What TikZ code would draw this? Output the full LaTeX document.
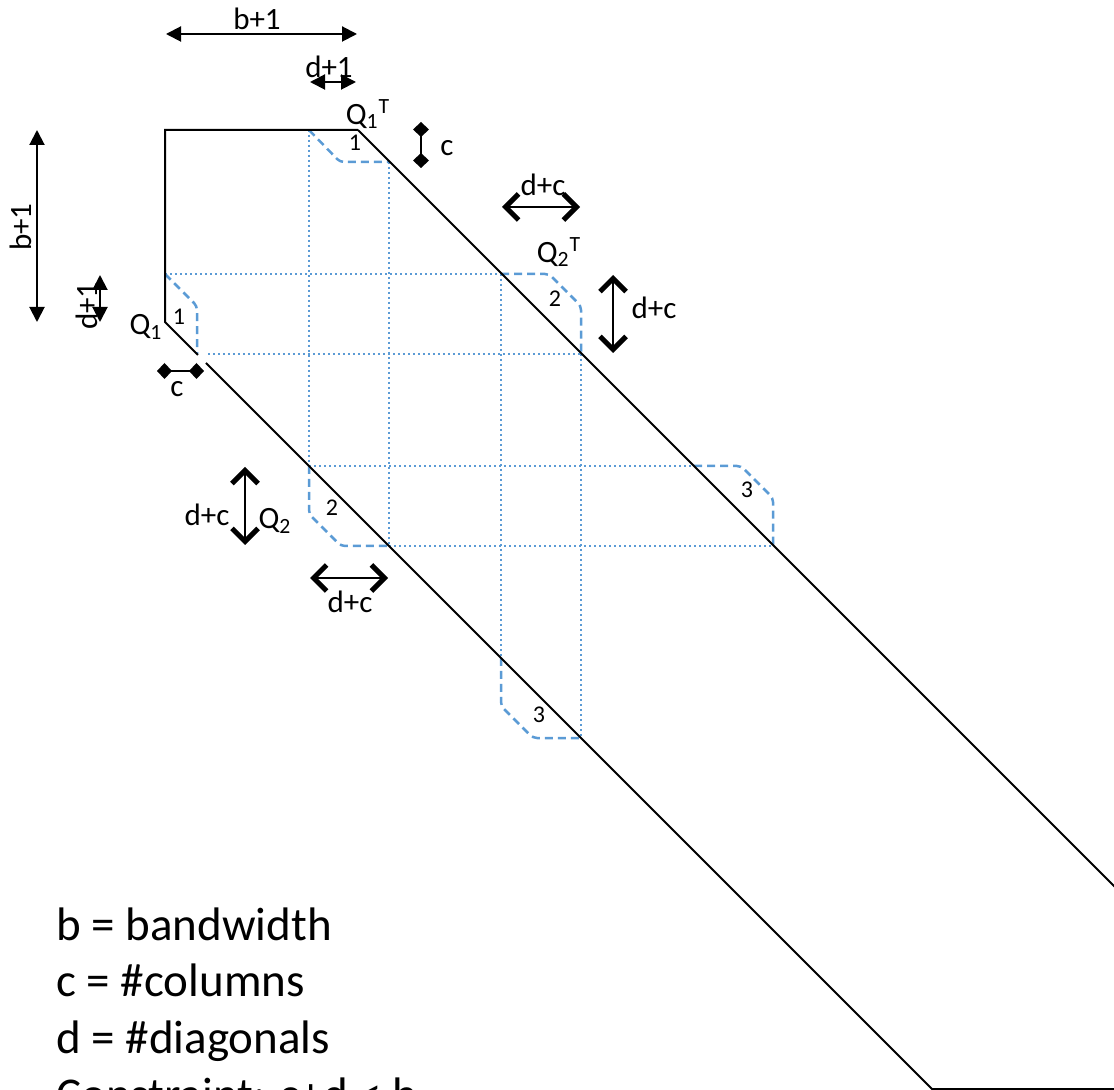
\documentclass[tikz,border=0pt]{standalone}
\usepackage{fontspec}
\setmainfont{Carlito}
\usetikzlibrary{arrows.meta}
\definecolor{blu}{RGB}{91,155,213}
\tikzset{
  band/.style={black, line width=1pt},
  gridl/.style={blu, line width=1.15pt, dash pattern=on 1.1pt off 1.4pt},
  blockl/.style={blu, line width=1.25pt, dash pattern=on 4pt off 2.5pt, rounded corners=2pt},
  lbl/.style={inner sep=0pt, font=\fontsize{15.5}{18}\selectfont},
  num/.style={inner sep=0pt, font=\fontsize{12}{14}\selectfont},
  legend/.style={inner sep=0pt, anchor=base west, font=\fontsize{23.5}{28}\selectfont},
  dimarrow/.style={line width=1pt, {Triangle[length=7.5pt,width=7.5pt]}-{Triangle[length=7.5pt,width=7.5pt]}},
  dcarrow/.style={line width=1pt, {Straight Barb[length=6.5pt,width=13pt,line width=2.5pt]}-{Straight Barb[length=6.5pt,width=13pt,line width=2.5pt]}},
  diamarrow/.style={line width=1pt, {Diamond[length=7.5pt,width=8pt]}-{Diamond[length=7.5pt,width=8pt]}}
}
\begin{document}
\begin{tikzpicture}[x=0.5pt,y=-0.5pt]
\useasboundingbox (0,0) rectangle (1114,1090);

% dotted grid
\draw[gridl] (309,130) -- (309,466);
\draw[gridl] (389,162) -- (389,546);
\draw[gridl] (501,274) -- (501,658);
\draw[gridl] (581,354) -- (581,738);
\draw[gridl] (165,274) -- (501,274);
\draw[gridl] (208,354) -- (581,354);
\draw[gridl] (309,466) -- (694,466);
\draw[gridl] (389,546) -- (774,546);

% dashed blocks
\draw[blockl] (309,130) -- (340,162) -- (389,162);
\draw[blockl] (165,274) -- (197,306) -- (197,354);
\draw[blockl] (501,274) -- (549,274) -- (581,306) -- (581,354);
\draw[blockl] (309,466) -- (309,514) -- (341,546) -- (389,546);
\draw[blockl] (694,466) -- (741,466) -- (773,498) -- (773,546);
\draw[blockl] (501,658) -- (501,706) -- (533,738) -- (581,738);

% band outline
\draw[band] (358,130) -- (165,130) -- (165,322) -- (198,355);
\draw[band] (206,363) -- (932,1089) -- (1120,1089);
\draw[band] (358,130) -- (1120,892);

% block numbers
\node[num] (n1t) at (355,143) {1};
\node[num] (n1) at (179,317) {1};
\node[num] (n2t) at (555,299) {2};
\node[num] (n2) at (332,508) {2};
\node[num] (n3t) at (747,490) {3};
\node[num] (n3) at (539,715) {3};

% Q labels
\node[lbl] (q1t) at (368,114) {Q\textsubscript{1}\textsuperscript{T}};
\node[lbl] (q1) at (146,327) {Q\textsubscript{1}};
\node[lbl] (q2t) at (559,252) {Q\textsubscript{2}\textsuperscript{T}};
\node[lbl] (q2) at (275,521) {Q\textsubscript{2}};

% b+1 / d+1 dimension arrows
\draw[dimarrow] (166,34) -- (357,34);
\node[lbl] (b1top) at (257,19) {b+1};
\draw[dimarrow] (310,82) -- (356,82);
\node[lbl] (d1top) at (329,67) {d+1};
\draw[dimarrow] (37,130) -- (37,322);
\node[lbl, rotate=90] (b1left) at (21,227) {b+1};
\draw[dimarrow] (100,275) -- (100,322);
\node[lbl, rotate=90] (d1left) at (87,306) {d+1};

% c markers
\draw[diamarrow] (421,122) -- (421,168);
\node[lbl] (cright) at (447,148) {c};
\draw[diamarrow] (157,371) -- (204,371);
\node[lbl] (cleft) at (177,389) {c};

% d+c arrows
\draw[dcarrow] (502,207) -- (580,207);
\node[lbl] (dctop) at (543,185) {d+c};
\draw[dcarrow] (613,275) -- (613,353);
\node[lbl] (dcright) at (654,308) {d+c};
\draw[dcarrow] (245,467) -- (245,545);
\node[lbl] (dcleft) at (207,515) {d+c};
\draw[dcarrow] (310,578) -- (388,578);
\node[lbl] (dcbottom) at (350,602) {d+c};

% legend
\node[legend] (lg1) at (56,940) {b = bandwidth};
\node[legend] (lg2) at (56,996) {c = \#columns};
\node[legend] (lg3) at (56,1053) {d = \#diagonals};
\node[legend] (lg4) at (56,1110) {Constraint: c+d < b};
\end{tikzpicture}
\end{document}
